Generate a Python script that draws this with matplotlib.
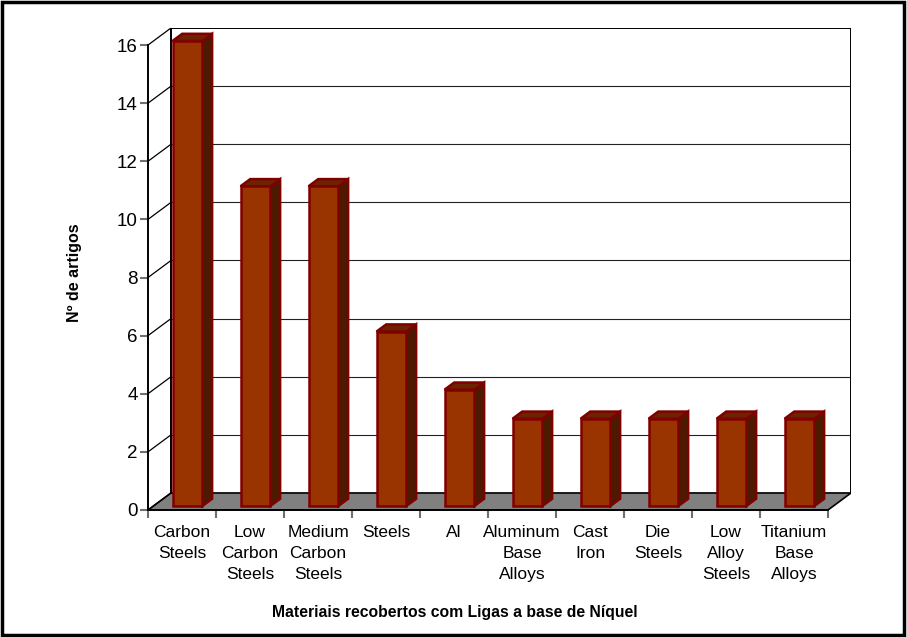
import matplotlib
matplotlib.use("Agg")
import matplotlib.pyplot as plt
from matplotlib.patches import Polygon, Rectangle

plt.rcParams["font.family"] = ["Liberation Sans", "DejaVu Sans"]

categorias = ["Carbon\nSteels", "Low\nCarbon\nSteels", "Medium\nCarbon\nSteels", "Steels", "Al",
              "Aluminum\nBase\nAlloys", "Cast\nIron", "Die\nSteels", "Low\nAlloy\nSteels",
              "Titanium\nBase\nAlloys"]
artigos = [16, 11, 11, 6, 4, 3, 3, 3, 3, 3]
yticks = [0, 2, 4, 6, 8, 10, 12, 14, 16]

# profundidade do efeito 3D (em unidades de dados)
DX, DY = 0.338, 0.586
F0, F1 = 0.24, 0.66      # posição da barra dentro da profundidade
BW = 0.44                # largura da face frontal
YMAX = 16
n = len(categorias)

W, H = 907, 637
fig = plt.figure(figsize=(W / 100, H / 100), dpi=100)
fig.patches.append(Rectangle((0.002, 0.003), 0.995, 0.994, transform=fig.transFigure,
                             fill=False, edgecolor="black", linewidth=2.5))

ax = fig.add_axes([148 / W, (H - 510) / H, (851 - 148) / W, (510 - 28) / H])
ax.set_xlim(0, n + DX)
ax.set_ylim(0, YMAX + DY)
ax.patch.set_visible(False)

# chão cinza
ax.add_patch(Polygon([(0, 0), (n, 0), (n + DX, DY), (DX, DY)], closed=True,
                     facecolor="#808080", edgecolor="black", linewidth=1.2, zorder=1))

# parede do fundo: grelha e moldura
for v in yticks[1:-1]:
    ax.plot([DX, n + DX], [v + DY, v + DY], color="#222222", lw=0.8, zorder=1)
ax.plot([DX, DX, n + DX, n + DX], [DY, YMAX + DY, YMAX + DY, DY], color="black", lw=1.4, zorder=1)
# parede lateral esquerda
for v in yticks:
    ax.plot([0, DX], [v, v + DY], color="black", lw=0.9, zorder=1)

# barras 3D
front_c, side_c, top_c, edge_c = "#993300", "#4d1a00", "#6b2400", "#800000"
for i, v in enumerate(artigos):
    x0 = i + (1 - BW) / 2 + F0 * DX
    x1 = x0 + BW
    y0 = F0 * DY
    ddx, ddy = (F1 - F0) * DX, (F1 - F0) * DY
    side = [(x1, y0), (x1 + ddx, y0 + ddy), (x1 + ddx, v + y0 + ddy), (x1, v + y0)]
    top = [(x0, v + y0), (x1, v + y0), (x1 + ddx, v + y0 + ddy), (x0 + ddx, v + y0 + ddy)]
    front = [(x0, y0), (x1, y0), (x1, v + y0), (x0, v + y0)]
    for pts, fc in ((side, side_c), (top, top_c), (front, front_c)):
        ax.add_patch(Polygon(pts, closed=True, facecolor=fc, edgecolor=edge_c,
                             linewidth=1.8, joinstyle="miter", zorder=3))

# eixos frontais
for s in ("top", "right"):
    ax.spines[s].set_visible(False)
ax.spines["left"].set_bounds(0, YMAX)
ax.spines["bottom"].set_bounds(0, n)
ax.spines["left"].set_linewidth(1.4)
ax.spines["bottom"].set_linewidth(1.4)
ax.spines["left"].set_zorder(4)
ax.spines["bottom"].set_zorder(4)

ax.set_yticks(yticks)
ax.set_yticklabels([str(t) for t in yticks], fontsize=13.5)
ax.tick_params(axis="y", length=5.5, width=1.5, color="#707070", pad=2)
ax.set_xticks(range(n + 1))
ax.set_xticklabels([""] * (n + 1))
ax.tick_params(axis="x", which="major", length=5.5, width=1.5, color="#707070")
ax.set_xticks([i + 0.5 for i in range(n)], minor=True)
ax.set_xticklabels(categorias, minor=True, fontsize=12.5, linespacing=1.5, va="top")
ax.tick_params(axis="x", which="minor", length=0, pad=11)

fig.text(455 / W, 1 - 612 / H, "Materiais recobertos com Ligas a base de Níquel",
         ha="center", va="center", fontsize=11.3, fontweight="bold")
fig.text(74 / W, 1 - 273 / H, "Nº de artigos", ha="center", va="center",
         rotation=90, fontsize=11.5, fontweight="bold")

fig.savefig("out.png", dpi=100)
plt.close(fig)
